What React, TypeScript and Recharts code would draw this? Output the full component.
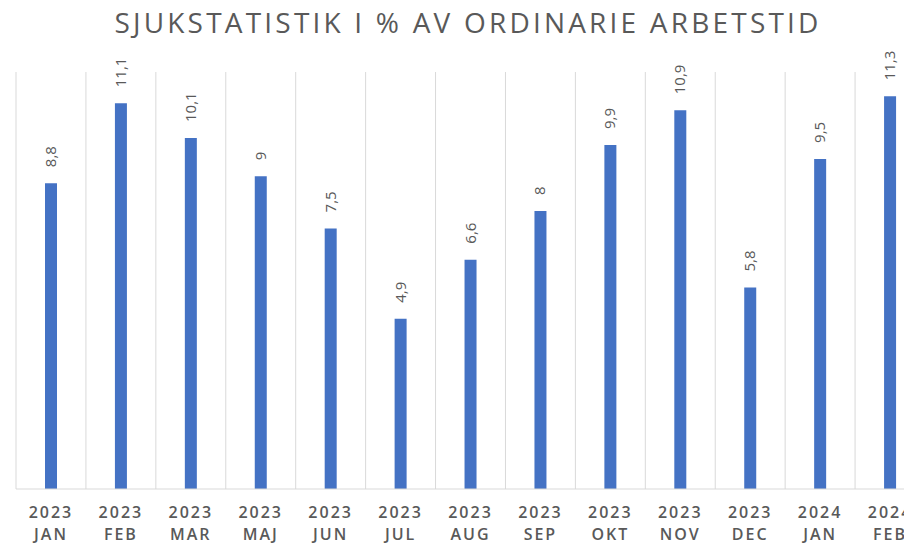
import { BarChart, Bar, XAxis, YAxis, CartesianGrid, LabelList } from "recharts";

const years = ["2023", "2023", "2023", "2023", "2023", "2023", "2023", "2023", "2023", "2023", "2023", "2024", "2024"];
const months = ["JAN", "FEB", "MAR", "MAJ", "JUN", "JUL", "AUG", "SEP", "OKT", "NOV", "DEC", "JAN", "FEB"];
const sickRates = [8.8, 11.1, 10.1, 9, 7.5, 4.9, 6.6, 8, 9.9, 10.9, 5.8, 9.5, 11.3];

const data = months.map((m, i) => ({ name: i, year: years[i], month: m, value: sickRates[i] }));

const grey = "#595959";
const font = "'Open Sans', sans-serif";

const MonthTick = (props: any) => {
  const { x, y, payload } = props;
  const i = payload.value;
  return (
    <text x={x} y={y} textAnchor="middle" fill={grey} fontSize={16} fontWeight={600} fontFamily={font} letterSpacing={2}>
      <tspan x={x} dy={21}>{years[i]}</tspan>
      <tspan x={x} dy={22}>{months[i]}</tspan>
    </text>
  );
};

const ValueLabel = (props: any) => {
  const { x, y, width, value } = props;
  const cx = x + width / 2 + 5;
  const ty = y - 16;
  return (
    <text
      x={cx}
      y={ty}
      transform={`rotate(-90 ${cx} ${ty})`}
      textAnchor="start"
      fill={grey}
      fontSize={15}
      fontFamily={font}
    >
      {String(value).replace(".", ",")}
    </text>
  );
};

// body keeps its 8px margin, so everything here sits 8px in from the page edge
const App = () => {
  return (
    <div style={{ position: "relative", width: 904, height: 538 }}>
      <div style={{ position: "absolute", top: 0, left: 0, width: 904, height: 538, overflow: "hidden" }}>
        <BarChart width={932} height={538} data={data} margin={{ top: 64, right: 15, bottom: 0, left: 8 }}>
          <CartesianGrid
            horizontal={false}
            stroke="#d9d9d9"
            verticalCoordinatesGenerator={({ offset }: any) =>
              Array.from({ length: data.length + 1 }, (_, i) => offset.left + (i * offset.width) / data.length)
            }
          />
          <XAxis
            dataKey="name"
            tickLine={false}
            axisLine={{ stroke: "#d9d9d9" }}
            tick={<MonthTick />}
            interval={0}
            height={57}
          />
          <YAxis hide domain={[0, 12]} />
          <Bar dataKey="value" fill="#4472C4" barSize={12} isAnimationActive={false}>
            <LabelList dataKey="value" content={<ValueLabel />} />
          </Bar>
        </BarChart>
      </div>
      <div
        style={{
          position: "absolute",
          top: -5,
          left: 90,
          width: 740,
          textAlign: "center",
          fontFamily: font,
          fontSize: 28,
          letterSpacing: 3.2,
          color: grey,
          whiteSpace: "nowrap",
        }}
      >
        SJUKSTATISTIK I % AV ORDINARIE ARBETSTID
      </div>
    </div>
  );
};

export default App;
